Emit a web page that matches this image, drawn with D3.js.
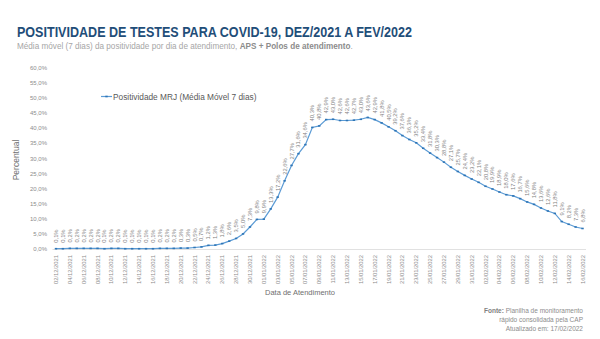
<!DOCTYPE html>
<html><head><meta charset="utf-8">
<script src="https://cdn.jsdelivr.net/npm/d3@7"></script>
<style>body{margin:0;background:#fff}svg{display:block}text{font-family:"Liberation Sans",Arial,sans-serif}</style>
</head><body>
<svg id="c" width="600" height="339"></svg>
<script>
const dates = ["02/12/2021","03/12/2021","04/12/2021","05/12/2021","06/12/2021","07/12/2021","08/12/2021","09/12/2021","10/12/2021","11/12/2021","12/12/2021","13/12/2021","14/12/2021","15/12/2021","16/12/2021","17/12/2021","18/12/2021","19/12/2021","20/12/2021","21/12/2021","22/12/2021","23/12/2021","24/12/2021","25/12/2021","26/12/2021","27/12/2021","28/12/2021","29/12/2021","30/12/2021","31/12/2021","01/01/2022","02/01/2022","03/01/2022","04/01/2022","05/01/2022","06/01/2022","07/01/2022","08/01/2022","09/01/2022","10/01/2022","11/01/2022","12/01/2022","13/01/2022","14/01/2022","15/01/2022","16/01/2022","17/01/2022","18/01/2022","19/01/2022","20/01/2022","21/01/2022","22/01/2022","23/01/2022","24/01/2022","25/01/2022","26/01/2022","27/01/2022","28/01/2022","29/01/2022","30/01/2022","31/01/2022","01/02/2022","02/02/2022","03/02/2022","04/02/2022","05/02/2022","06/02/2022","07/02/2022","08/02/2022","09/02/2022","10/02/2022","11/02/2022","12/02/2022","13/02/2022","14/02/2022","15/02/2022","16/02/2022"];
const positividade = [0.1,0.1,0.2,0.2,0.2,0.2,0.2,0.1,0.2,0.2,0.1,0.1,0.1,0.1,0.1,0.2,0.2,0.2,0.3,0.3,
  0.5,0.7,1.2,1.3,1.8,2.6,3.5,5.0,7.3,9.8,9.9,
  13.3,17.2,22.6,27.7,31.6,34.6,40.3,40.8,42.9,43.0,42.6,42.6,42.7,43.0,43.6,
  42.9,41.8,40.5,39.2,37.6,36.3,35.2,33.4,31.8,30.3,28.8,27.1,25.7,24.4,23.2,22.1,20.8,19.9,18.9,18.0,17.6,16.7,15.6,14.8,13.6,12.6,11.8,9.1,8.2,7.3,6.8];
const yTicks = [0,5,10,15,20,25,30,35,40,45,50,55,60];
const seriesName = "Positividade MRJ (Média Móvel 7 dias)";

const svg = d3.select("#c");
const fmt = v => v.toFixed(1).replace(".", ",") + "%";

const x = d3.scalePoint().domain(dates).range([52.5, 586]).padding(0.5);
const y = d3.scaleLinear().domain([0, 60]).range([249, 68]);

// title
svg.append("text").attr("x", 17).attr("y", 37).attr("font-size", 15).attr("font-weight", "bold")
  .attr("fill", "#1f4e79").attr("textLength", 395).attr("lengthAdjust", "spacingAndGlyphs")
  .text("POSITIVIDADE DE TESTES PARA COVID-19, DEZ/2021 A FEV/2022");
const sub = svg.append("text").attr("x", 17).attr("y", 48.5).attr("font-size", 8.5).attr("fill", "#a6a6a6");
sub.append("tspan").text("Média móvel (7 dias) da positividade por dia de atendimento, ");
sub.append("tspan").attr("font-weight", "bold").attr("fill", "#8c8c8c").text("APS + Polos de atendimento");
sub.append("tspan").text(".");
const subLen = sub.node().getComputedTextLength();
sub.attr("font-size", 8.5 * 336 / subLen);

// y axis labels
svg.append("g").selectAll("text").data(yTicks).join("text")
  .attr("x", 47).attr("y", d => y(d) + 2).attr("text-anchor", "end")
  .attr("font-size", 6).attr("fill", "#8c8c8c").text(d => fmt(d));

svg.append("text").attr("transform", "translate(19,160) rotate(-90)").attr("text-anchor", "middle")
  .attr("font-size", 8.5).attr("fill", "#6f6f6f").text("Percentual");

// baseline
svg.append("line").attr("x1", 52.5).attr("x2", 586).attr("y1", y(0) + 0.5).attr("y2", y(0) + 0.5)
  .attr("stroke", "#d9d9d9").attr("stroke-width", 0.8);

// x tick labels
svg.append("g").selectAll("text").data(dates.filter((d, i) => i % 2 === 0)).join("text")
  .attr("transform", d => `translate(${x(d) + 2},255) rotate(-90)`).attr("text-anchor", "end")
  .attr("font-size", 5.8).attr("fill", "#8c8c8c").text(d => d);

svg.append("text").attr("x", 300).attr("y", 295).attr("text-anchor", "middle")
  .attr("font-size", 7.5).attr("fill", "#6f6f6f").text("Data de Atendimento");

// line
const pts = dates.map((d, i) => ({d, v: positividade[i]}));
svg.append("path").datum(pts).attr("fill", "none").attr("stroke", "#5b9bd5").attr("stroke-width", 1.2)
  .attr("d", d3.line().x(p => x(p.d)).y(p => y(p.v)));
svg.append("g").selectAll("rect").data(pts).join("rect")
  .attr("x", p => x(p.d) - 1.2).attr("y", p => y(p.v) - 0.8).attr("width", 2.4).attr("height", 1.6)
  .attr("fill", "#2e75b6");

// data labels
svg.append("g").selectAll("text").data(pts).join("text")
  .attr("transform", p => `translate(${x(p.d) + 2},${y(p.v) - 6}) rotate(-90)`)
  .attr("font-size", 5.8).attr("fill", "#7f7f7f").text(p => fmt(p.v));

// legend
svg.append("line").attr("x1", 101).attr("x2", 112).attr("y1", 96.5).attr("y2", 96.5)
  .attr("stroke", "#5b9bd5").attr("stroke-width", 1.2);
svg.append("rect").attr("x", 105.3).attr("y", 95.7).attr("width", 2.4).attr("height", 1.6).attr("fill", "#2e75b6");
svg.append("text").attr("x", 113).attr("y", 99.5).attr("font-size", 8.3).attr("fill", "#595959").text(seriesName);

// footnote
const fn = svg.append("g").attr("font-size", 6.5).attr("fill", "#8c8c8c").attr("text-anchor", "end");
const f1 = fn.append("text").attr("x", 583).attr("y", 313);
f1.append("tspan").attr("font-weight", "bold").attr("fill", "#7f7f7f").text("Fonte:");
f1.append("tspan").text(" Planilha de monitoramento");
fn.append("text").attr("x", 583).attr("y", 322).text("rápido consolidada pela CAP");
fn.append("text").attr("x", 583).attr("y", 331).text("Atualizado em: 17/02/2022");
</script>
</body></html>
